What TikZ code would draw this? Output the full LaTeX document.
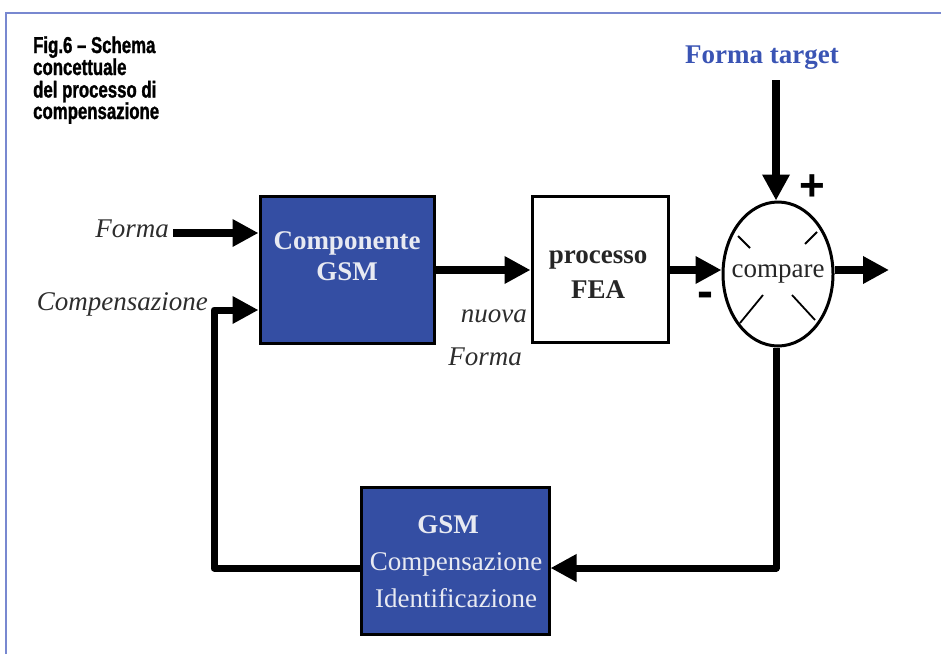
\documentclass[tikz,border=0pt]{standalone}
\usepackage{fontspec}
\setmainfont{Liberation Serif}
\newfontfamily\capfont[FakeStretch=0.73,FakeBold=1.2]{Liberation Sans}
\newfontfamily\signfont{Liberation Sans}
\usetikzlibrary{arrows.meta,shapes.geometric}
\definecolor{frameblue}{RGB}{120,136,208}
\definecolor{boxblue}{RGB}{52,78,163}
\definecolor{boxtext}{RGB}{232,234,242}
\definecolor{targetblue}{RGB}{58,84,180}
\definecolor{labelgray}{RGB}{45,45,45}
\tikzset{
  bighead/.style={-{Triangle[length=26pt,width=26pt]}},
  flow/.style={line width=7.5pt, bighead},
  loopline/.style={line width=7pt, line join=round},
  bluebox/.style={draw=black, line width=3pt, fill=boxblue, inner sep=0pt},
  whitebox/.style={draw=black, line width=3pt, fill=white, inner sep=0pt},
  intext/.style={text=boxtext, font=\fontsize{27}{32}\selectfont, inner sep=0pt},
  intextb/.style={text=boxtext, font=\fontsize{27}{32}\selectfont\bfseries, inner sep=0pt},
  blktext/.style={text=black!85, font=\fontsize{27}{32}\selectfont, inner sep=0pt},
  blktextb/.style={text=black!85, font=\fontsize{27}{32}\selectfont\bfseries, inner sep=0pt},
  itlabel/.style={text=labelgray, font=\fontsize{27}{32}\selectfont\itshape, inner sep=0pt},
  captext/.style={anchor=base west, inner sep=0pt, font=\capfont\bfseries\fontsize{23}{22}\selectfont},
  tick/.style={line width=1.8pt},
}
\begin{document}
\begin{tikzpicture}[x=1pt,y=-1pt]
\useasboundingbox (0,0) rectangle (941,654);
% frame
\draw[frameblue, line width=2.5pt] (6,654) -- (6,13) -- (941,13);
% caption
\node[captext] (cap1) at (33,53) {Fig.6 – Schema};
\node[captext] (cap2) at (33,75) {concettuale};
\node[captext] (cap3) at (33,97.5) {del processo di};
\node[captext] (cap4) at (33,119) {compensazione};

% boxes
\node[bluebox, minimum width=174pt, minimum height=147pt] (gsm1) at (347,269.5) {};
\node[intextb, anchor=base] (gsm1a) at (347,249) {Componente};
\node[intextb, anchor=base] (gsm1b) at (347,280) {GSM};

\node[whitebox, minimum width=136pt, minimum height=146pt] (fea) at (600,269) {};
\node[blktextb, anchor=base] (feaa) at (598,263) {processo};
\node[blktextb, anchor=base] (feab) at (598,298) {FEA};

\node[draw=black, line width=3pt, ellipse, minimum width=110pt, minimum height=144pt, inner sep=0pt] (cmp) at (778,274) {};
\node[blktext, anchor=base] (cmpt) at (778,277) {compare};
\draw[tick] (738,236) -- (750,248);
\draw[tick] (817,232) -- (805,244);
\draw[tick] (763,295) -- (740,323);
\draw[tick] (792,295) -- (815,320);

\node[bluebox, minimum width=188pt, minimum height=147pt] (gsm2) at (455,560.5) {};
\node[intextb, anchor=base] (gsm2a) at (448,533) {GSM};
\node[intext, anchor=base] (gsm2b) at (456,570) {Compensazione};
\node[intext, anchor=base] (gsm2c) at (456,607) {Identificazione};

% labels
\node[text=targetblue, font=\fontsize{27}{32}\selectfont\bfseries, anchor=base, inner sep=0pt] (target) at (762,63) {Forma target};
\node[itlabel, anchor=base east] (forma) at (169,237) {Forma};
\node[itlabel, anchor=base east] (comp) at (208,310) {Compensazione};
\node[itlabel, anchor=base east] (nuova) at (527,322) {nuova};
\node[itlabel, anchor=base] (nforma) at (485,365) {Forma};
\node[font=\signfont\bfseries\fontsize{44}{44}\selectfont, inner sep=0pt] (plus) at (812,188) {+};
\node[font=\signfont\bfseries\fontsize{48}{48}\selectfont, inner sep=0pt] (minus) at (705,300) {-};

% coordinates
\coordinate (tgtstart) at (776,80);
\coordinate (out) at (889,270);
\coordinate (cornerL) at (214,568);
\coordinate (cornerR) at (776,568);
\coordinate (formaStart) at (173,233);

% connectors
\draw[flow] (formaStart) -- (formaStart -| gsm1.west);
\draw[flow] (tgtstart) -- (tgtstart |- cmp.north);
\draw[flow] (gsm1.east |- 0,270) -- (fea.west |- 0,270);
\draw[flow] (fea.east |- 0,270) -- (cmp.west |- 0,270);
\draw[flow] (cmp.east |- 0,270) -- (out);
\draw[loopline, bighead] (cmp.south -| cornerR) -- (cornerR) -- (gsm2.east |- cornerR);
\draw[loopline, bighead] (gsm2.west |- cornerL) -- (cornerL) -- (cornerL |- 0,310) -- (gsm1.west |- 0,310);
\end{tikzpicture}
\end{document}
